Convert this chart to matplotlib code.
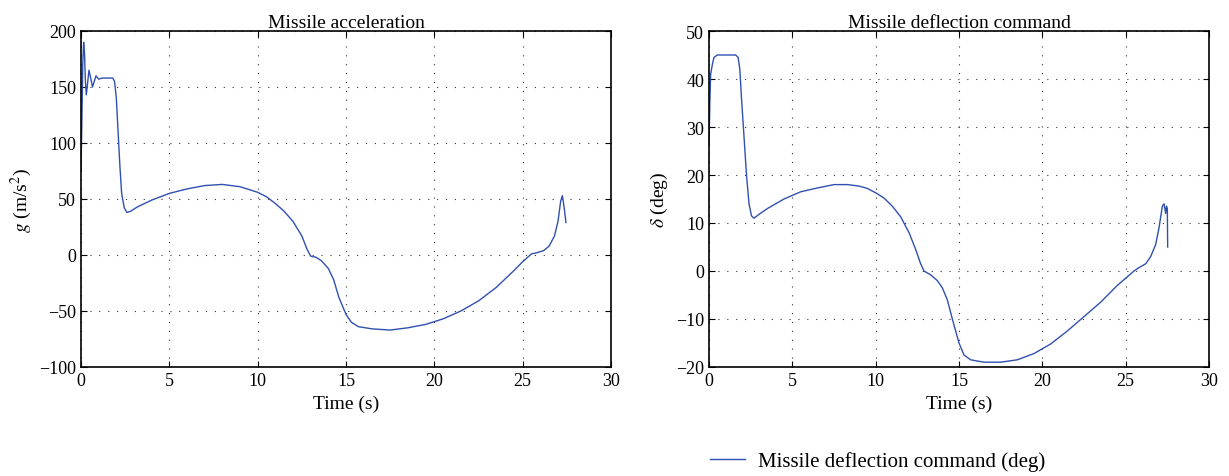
import numpy as np
from matplotlib import pyplot as plt

# missile acceleration (m/s^2) over time (s)
acc_time = [0.0, 0.05, 0.1, 0.15, 0.2, 0.25, 0.3, 0.35, 0.45, 0.55, 0.65, 0.75, 0.85, 1.0, 1.2,
            1.5, 1.8, 1.9, 2.0, 2.1, 2.2, 2.3, 2.45, 2.6, 2.8, 3.2, 4.0, 5.0, 6.0, 7.0, 8.0,
            9.0, 10.0, 10.5, 11.0, 11.5, 12.0, 12.5, 12.8, 13.0, 13.3, 13.6, 14.0, 14.3, 14.6,
            15.0, 15.3, 15.7, 16.5, 17.5, 18.5, 19.5, 20.5, 21.5, 22.5, 23.5, 24.5, 25.0,
            25.5, 25.8, 26.2, 26.5, 26.8, 27.0, 27.15, 27.25, 27.35, 27.45]
acc_value = [75, 120, 170, 190, 180, 155, 143, 150, 165, 158, 150, 155, 160, 157, 158,
             158, 158, 155, 140, 110, 80, 55, 42, 38, 39, 43, 49, 55, 59, 62, 63,
             61, 56, 52, 46, 39, 30, 17, 5, -1, -2, -5, -12, -22, -38,
             -53, -60, -64, -66, -67, -65, -62, -57, -50, -41, -29, -14, -6,
             1, 2, 4, 8, 17, 30, 48, 53, 42, 29]

# missile deflection command (deg) over time (s)
defl_time = [0.0, 0.05, 0.1, 0.2, 0.3, 0.5, 1.0, 1.6, 1.75, 1.85, 1.95, 2.1, 2.25, 2.4, 2.55,
             2.7, 3.0, 3.5, 4.5, 5.5, 6.5, 7.5, 8.3, 9.0, 9.5, 10.0, 10.5, 11.0, 11.5, 12.0,
             12.4, 12.7, 12.9, 13.3, 13.7, 14.0, 14.3, 14.6, 15.0, 15.3, 15.7, 16.5, 17.5,
             18.5, 19.5, 20.5, 21.5, 22.5, 23.5, 24.5, 25.0, 25.5, 25.8, 26.2, 26.5, 26.8,
             27.0, 27.2, 27.3, 27.4, 27.45, 27.5, 27.52]
defl_value = [26, 35, 41, 43, 44.5, 45, 45, 45, 44.5, 42, 36, 28, 20, 14, 11.5,
              11, 11.8, 13, 15, 16.5, 17.3, 18, 18, 17.7, 17.2, 16.3, 15.2, 13.5, 11.3, 8,
              4.5, 1.5, 0, -0.8, -2, -3.5, -6, -10, -15, -17.5, -18.5, -19, -19,
              -18.5, -17.2, -15.2, -12.5, -9.5, -6.5, -3, -1.5, 0, 0.7, 1.5, 3, 5.5,
              9, 13.5, 14, 12, 13.5, 13, 5]

x_ticks = [0, 5, 10, 15, 20, 25, 30]
acc_ticks = [-100, -50, 0, 50, 100, 150, 200]
defl_ticks = [-20, -10, 0, 10, 20, 30, 40, 50]

LINE_COLOR = "#3050b0"
plt.rcParams['font.family'] = ['Liberation Serif', 'DejaVu Serif']
plt.rcParams['mathtext.fontset'] = 'stix'
plt.rcParams['font.size'] = 13

fig = plt.figure(figsize=(12.29, 4.77), dpi=100)
W, H = 1229, 477
ax1 = fig.add_axes([81 / W, 1 - 368 / H, (611 - 81) / W, (368 - 32) / H])
ax2 = fig.add_axes([709 / W, 1 - 368 / H, (1209 - 709) / W, (368 - 32) / H])


def style_axes(ax, yticks):
    ax.set_xlim(0, 30)
    ax.set_ylim(yticks[0], yticks[-1])
    ax.set_xticks(x_ticks)
    ax.set_yticks(yticks)
    ax.set_yticklabels([str(v).replace('-', '\u2212') for v in yticks])
    ax.tick_params(direction='in', top=True, right=True, length=4, width=0.8, labelsize=13)
    ax.grid(True, color='#333333', linestyle=(0, (1, 7)), linewidth=0.8)
    for s in ax.spines.values():
        s.set_linewidth(1.2)
    ax.set_xlabel("Time (s)", fontsize=14)


ax1.plot(acc_time, acc_value, color=LINE_COLOR, linewidth=1.0)
style_axes(ax1, acc_ticks)
ax1.set_title("Missile acceleration", fontsize=14, pad=3)
ax1.set_ylabel("$g$ (m/s$^2$)", fontsize=14, labelpad=4)

line, = ax2.plot(defl_time, defl_value, color=LINE_COLOR, linewidth=1.0,
                 label="Missile deflection command (deg)")
style_axes(ax2, defl_ticks)
ax2.set_title("Missile deflection command", fontsize=14, pad=3)
ax2.set_ylabel("$\\delta$ (deg)", fontsize=14, labelpad=4)

fig.legend(handles=[line], loc='center left', bbox_to_anchor=(710 / W, 1 - 462 / H),
           frameon=False, fontsize=15, handlelength=1.7, handletextpad=0.6,
           borderpad=0, borderaxespad=0)

fig.savefig("out.png", dpi=100)
